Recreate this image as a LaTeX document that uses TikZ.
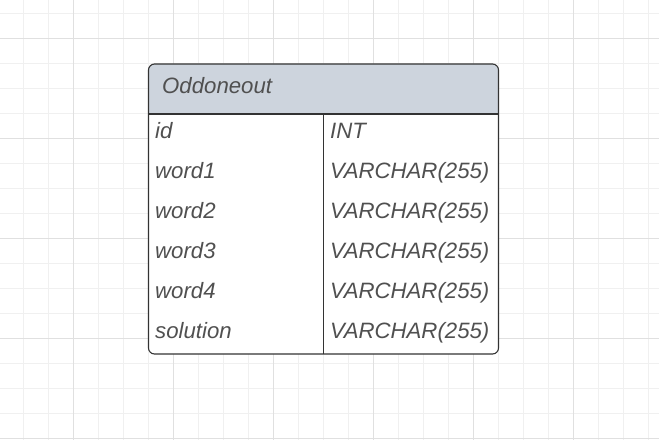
\documentclass[tikz,border=0pt]{standalone}
\usepackage{fontspec}
\setmainfont{Liberation Sans}
\definecolor{gridminor}{HTML}{F0F0F0}
\definecolor{gridmajor}{HTML}{E0E0E0}
\definecolor{headfill}{HTML}{CDD4DD}
\definecolor{borderc}{HTML}{333333}
\definecolor{textc}{HTML}{505050}
\begin{document}
\begin{tikzpicture}[x=1pt,y=-1pt,
  cell/.style={anchor=base west,inner sep=0pt,text=textc,font=\fontsize{22.2}{25}\selectfont\itshape},
  border/.style={draw=borderc,line width=1.1pt}]
\useasboundingbox (0,0) rectangle (659,440);
\fill[white] (0,0) rectangle (659,440);
% grid
\foreach \i in {0,...,26} {\draw[gridminor,line width=0.9pt] ({23.3+25*\i},0) -- ({23.3+25*\i},440);}
\foreach \j in {0,...,17} {\draw[gridminor,line width=0.9pt] (0,{13.3+25*\j}) -- (659,{13.3+25*\j});}
\foreach \i in {0,...,6} {\draw[gridmajor,line width=0.9pt] ({73.3+100*\i},0) -- ({73.3+100*\i},440);}
\foreach \j in {0,...,4} {\draw[gridmajor,line width=0.9pt] (0,{38.3+100*\j}) -- (659,{38.3+100*\j});}
% table
\coordinate (tl) at (148.5,64);
\coordinate (br) at (498.5,354);
\fill[white,rounded corners=6pt] (tl) rectangle (br);
\fill[headfill,rounded corners=6pt] (148.5,114) -- (148.5,64) -- (498.5,64) -- (498.5,114) -- cycle;
\fill[headfill] (148.5,105) rectangle (498.5,114);
\draw[border] (148.5,114) -- (498.5,114);
\draw[border] (323.5,114) -- (323.5,354);
\draw[border,rounded corners=6pt] (tl) rectangle (br);
% texts
\node[cell] (title) at (162,93.5) {Oddoneout};
\foreach \n/\a/\b [count=\k from 0] in {id/id/INT,w1/word1/VARCHAR(255),w2/word2/VARCHAR(255),w3/word3/VARCHAR(255),w4/word4/VARCHAR(255),sol/solution/VARCHAR(255)} {
  \node[cell] (\n-name) at (155,{138+40*\k}) {\a};
  \node[cell] (\n-type) at (330,{138+40*\k}) {\b};
}
\end{tikzpicture}
\end{document}
